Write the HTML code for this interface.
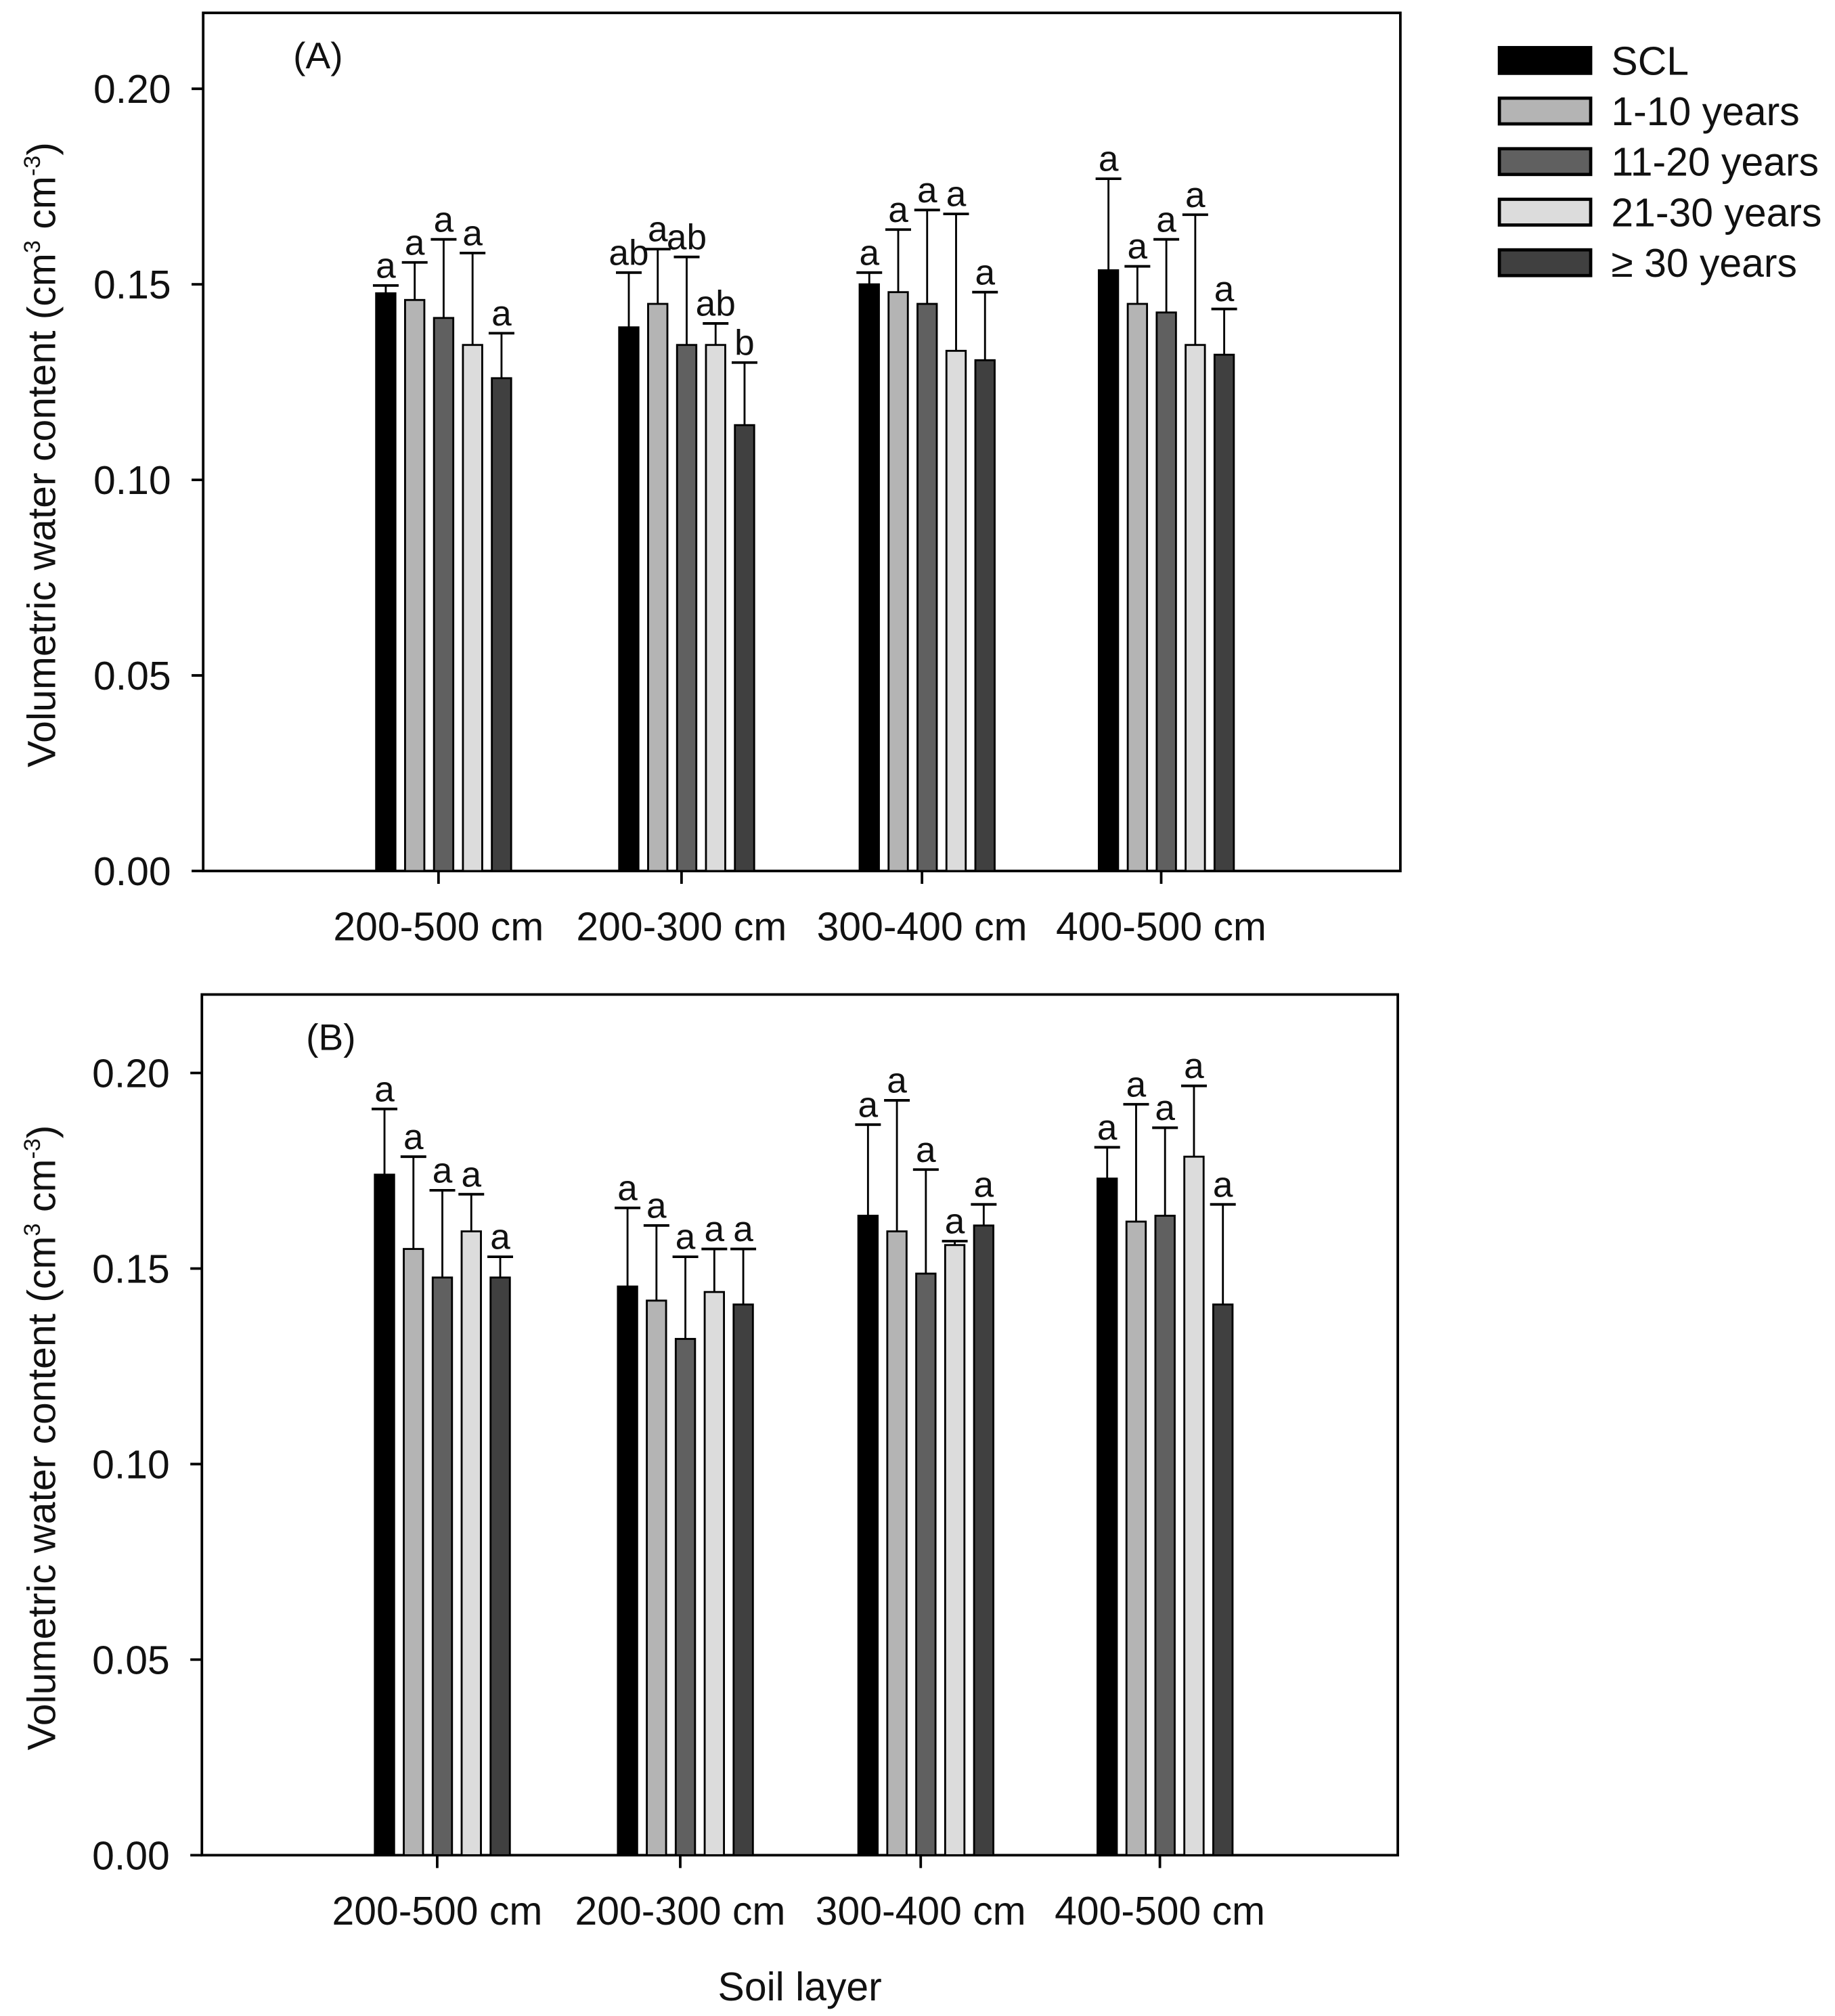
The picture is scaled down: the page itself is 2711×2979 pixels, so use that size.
<!DOCTYPE html>
<html><head><meta charset="utf-8"><style>
html,body{margin:0;padding:0;background:#fff}
svg{display:block}
text{font-family:"Liberation Sans",sans-serif;fill:#111}
</style></head><body>
<svg id="chart" width="2711" height="2979" viewBox="0 0 1427 1567" preserveAspectRatio="none" xmlns="http://www.w3.org/2000/svg">
<g id="legend"></g>
</svg>
<script>
const categories = ["200-500 cm","200-300 cm","300-400 cm","400-500 cm"];
const seriesNames = ["SCL","1-10 years","11-20 years","21-30 years","\u2265  30 years"];
const yTicks = [0,0.05,0.10,0.15,0.20];
const yTickLabels = ["0.00","0.05","0.10","0.15","0.20"];
// Panel A: values [series][category] and error-bar tops
const aValues = [[0.1477,0.139,0.150,0.1536],[0.146,0.145,0.148,0.145],[0.1414,0.1345,0.145,0.1428],[0.1345,0.1345,0.133,0.1345],[0.126,0.114,0.1306,0.132]];
const aErrTop = [[0.1497,0.153,0.153,0.177],[0.1556,0.159,0.164,0.1546],[0.1615,0.157,0.169,0.1615],[0.158,0.140,0.168,0.1678],[0.1375,0.130,0.148,0.1437]];
const aLetters = [["a","ab","a","a"],["a","a","a","a"],["a","ab","a","a"],["a","ab","a","a"],["a","b","a","a"]];
// Panel B
const bValues = [[0.174,0.1454,0.1635,0.173],[0.155,0.1418,0.1595,0.162],[0.1477,0.132,0.1487,0.1635],[0.1595,0.144,0.156,0.1786],[0.1477,0.1408,0.161,0.1408]];
const bErrTop = [[0.1908,0.1655,0.1868,0.181],[0.1786,0.161,0.193,0.192],[0.170,0.153,0.1753,0.186],[0.169,0.155,0.157,0.1967],[0.153,0.155,0.1664,0.1664]];
const bLetters = [["a","a","a","a"],["a","a","a","a"],["a","a","a","a"],["a","a","a","a"],["a","a","a","a"]];
const colors = ["#000000","#b4b4b4","#606060","#dcdcdc","#404040"];

const NS="http://www.w3.org/2000/svg";
const svg=document.getElementById('chart');
function mk(tag,attrs,parent,txt){const e=document.createElementNS(NS,tag);for(const k in attrs)e.setAttribute(k,attrs[k]);if(txt!==undefined)e.textContent=txt;(parent||svg).appendChild(e);return e;}

function panel(cfg){
  const g=mk('g',{});
  
  
  const y=v=>cfg.bottom-(v/0.05)*cfg.unit;
  const xc=i=>cfg.groupX[i];
  const frame=mk('rect',{x:cfg.left,y:cfg.top,width:cfg.right-cfg.left,height:cfg.bottom-cfg.top,fill:'none',stroke:'#000','stroke-width':2},g);
  
  
  yTicks.forEach((t,i)=>{
    const tk=mk('line',{x1:cfg.left-9,x2:cfg.left,y1:y(t),y2:y(t),stroke:'#000','stroke-width':2},g);
    
    
    const tl=mk('text',{x:cfg.left-25,y:y(t)+11,'text-anchor':'end','font-size':31},g,yTickLabels[i]);
    
    
  });
  categories.forEach((c,ci)=>{
    const tk=mk('line',{x1:xc(ci),x2:xc(ci),y1:cfg.bottom,y2:cfg.bottom+10,stroke:'#000','stroke-width':2},g);
    
    
    const tl=mk('text',{x:xc(ci),y:cfg.bottom+54,'text-anchor':'middle','font-size':31},g,c);
    
    
    for(let s=0;s<5;s++){
      const cx=xc(ci)+(s-2)*22.5+4;
      const v=cfg.values[s][ci], e=cfg.err[s][ci];
      const bar=mk('rect',{x:cx-7.5,y:y(v),width:15,height:cfg.bottom-y(v),fill:colors[s],stroke:'#000','stroke-width':1.5},g);
      
      
      const el=mk('line',{x1:cx,x2:cx,y1:y(v),y2:y(e),stroke:'#000','stroke-width':1.5},g);
      
      
      const cap=mk('line',{x1:cx-10,x2:cx+10,y1:y(e),y2:y(e),stroke:'#000','stroke-width':2},g);
      
      
      const lt=mk('text',{x:cx,y:y(e)-6,'text-anchor':'middle','font-size':28},g,cfg.letters[s][ci]);
      
      
    }
  });
  const pl=mk('text',{x:cfg.labelX,y:cfg.top+43,'font-size':29},g,cfg.label);
  
  
  const cy=(cfg.top+cfg.bottom)/2+10;
  const yt=mk('text',{x:0,y:0,'text-anchor':'middle','font-size':31,transform:`translate(43,${cy}) rotate(-90)`},g);
  
  
  yt.innerHTML='Volumetric water content (cm<tspan dy="-12" font-size="18">3</tspan><tspan dy="12"> cm</tspan><tspan dy="-12" font-size="18">-3</tspan><tspan dy="12">)</tspan>';
}
panel({name:'panel-a',left:158,top:10,right:1089,bottom:677,unit:152,groupX:[341,530,717,903],values:aValues,err:aErrTop,letters:aLetters,label:'(A)',labelX:228});
panel({name:'panel-b',left:157,top:773,right:1087,bottom:1442,unit:152,groupX:[340,529,716,902],values:bValues,err:bErrTop,letters:bLetters,label:'(B)',labelX:238});

const lg=document.getElementById('legend');
seriesNames.forEach((n,i)=>{
  const yy=37+i*39.3;
  const r=mk('rect',{x:1166,y:yy,width:71,height:20,fill:colors[i],stroke:'#000','stroke-width':2.5},lg);
  
  
  const t=mk('text',{x:1253,y:yy+21,'font-size':31,'xml:space':'preserve'},lg,n);
  
  
});
const xt=mk('text',{x:622,y:1555,'text-anchor':'middle','font-size':31},svg,'Soil layer');


</script>
</body></html>
